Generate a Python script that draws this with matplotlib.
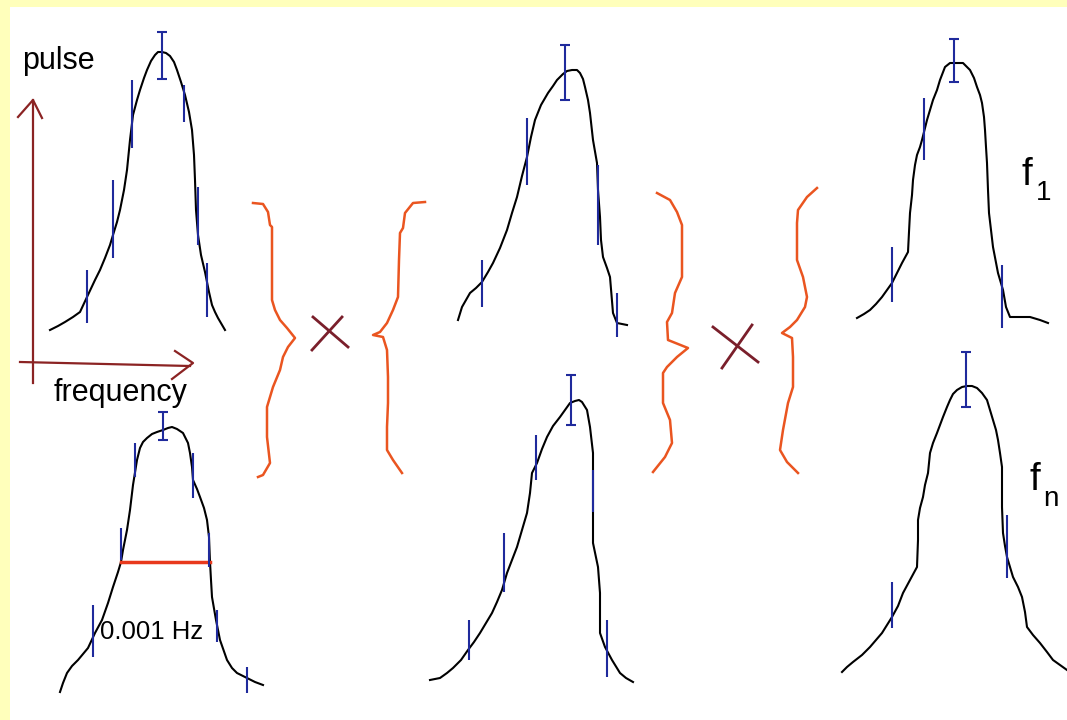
import matplotlib.pyplot as plt
from matplotlib.patches import Rectangle

plt.rcParams['font.family'] = ['Liberation Sans', 'DejaVu Sans']

# hand-drawn pulse profiles (pixel units, y downwards)
tl_x = [50, 58, 65, 73, 80, 87, 95, 100, 105, 110, 113, 117, 120, 124, 127, 130, 133, 137, 140, 144, 147, 151, 155, 158, 162, 166, 170, 174, 177, 181, 185, 189, 192, 194, 195, 196, 198, 201, 205, 209, 212, 215, 218, 225]
tl_y = [330, 326, 322, 317, 312, 297, 280, 270, 258, 245, 235, 222, 210, 190, 170, 140, 115, 100, 90, 78, 70, 61, 55, 52, 52, 53, 56, 62, 70, 82, 95, 112, 130, 155, 180, 210, 235, 255, 272, 292, 305, 312, 318, 330]

bl_x = [60, 63, 67, 72, 78, 83, 88, 95, 102, 108, 113, 118, 121, 123, 125, 127, 130, 133, 137, 140, 143, 147, 152, 157, 163, 168, 172, 177, 183, 188, 190, 192, 193, 197, 200, 204, 207, 209, 210, 211, 212, 216, 220, 227, 232, 237, 247, 255, 263]
bl_y = [692, 683, 673, 666, 660, 654, 648, 633, 620, 603, 587, 572, 562, 550, 540, 530, 510, 485, 460, 448, 442, 438, 434, 432, 430, 428, 427, 429, 433, 443, 453, 467, 480, 489, 497, 508, 520, 537, 562, 580, 597, 620, 640, 660, 668, 673, 678, 682, 685]

tm_x = [458, 462, 466, 470, 476, 482, 488, 493, 500, 507, 512, 517, 522, 527, 531, 535, 541, 548, 553, 557, 563, 567, 572, 577, 580, 583, 585, 588, 590, 593, 597, 598, 600, 601, 603, 607, 610, 613, 617, 627]
tm_y = [320, 307, 300, 293, 288, 282, 272, 263, 248, 230, 213, 197, 176, 157, 137, 120, 105, 93, 86, 80, 74, 71, 70, 70, 73, 79, 87, 100, 113, 140, 163, 190, 217, 240, 257, 268, 277, 313, 323, 325]

bm_x = [430, 440, 447, 453, 461, 468, 474, 480, 486, 492, 497, 502, 507, 512, 517, 522, 527, 530, 532, 537, 542, 547, 553, 560, 565, 570, 575, 579, 582, 587, 590, 593, 593, 593, 598, 600, 600, 605, 612, 620, 626, 633]
bm_y = [680, 678, 673, 668, 660, 650, 642, 633, 623, 613, 602, 590, 573, 560, 547, 530, 513, 493, 473, 463, 449, 437, 426, 417, 410, 403, 401, 400, 402, 410, 427, 453, 493, 543, 567, 593, 633, 647, 660, 673, 678, 682]

tr_x = [857, 864, 870, 876, 882, 887, 892, 897, 902, 908, 909, 910, 912, 913, 915, 917, 920, 922, 925, 927, 930, 933, 937, 940, 945, 950, 957, 963, 970, 974, 977, 980, 982, 984, 985, 986, 987, 988, 989, 993, 998, 1003, 1006, 1010, 1020, 1030, 1040, 1048]
tr_y = [318, 314, 310, 304, 297, 290, 283, 273, 263, 252, 232, 213, 195, 180, 165, 155, 147, 140, 128, 120, 110, 100, 90, 80, 67, 63, 63, 63, 70, 78, 87, 95, 103, 117, 130, 147, 163, 190, 213, 247, 273, 290, 307, 317, 317, 317, 320, 323]

br_x = [842, 847, 853, 862, 870, 876, 882, 887, 892, 898, 903, 910, 917, 918, 918, 920, 923, 925, 928, 930, 933, 937, 940, 943, 947, 950, 953, 957, 962, 967, 972, 977, 982, 987, 990, 993, 996, 998, 1000, 1002, 1002, 1003, 1005, 1007, 1010, 1013, 1018, 1022, 1025, 1027, 1033, 1040, 1047, 1053, 1060, 1067]
br_y = [672, 667, 662, 655, 647, 640, 633, 625, 617, 606, 593, 580, 567, 540, 520, 508, 497, 485, 473, 453, 443, 433, 425, 417, 407, 400, 394, 390, 387, 386, 386, 388, 393, 400, 410, 420, 430, 440, 453, 467, 507, 533, 546, 557, 567, 577, 587, 597, 612, 627, 635, 643, 652, 660, 665, 670]

# error bars: first one of each list is the capped bar at the peak
tl_err_x = [162, 132, 113, 87, 184, 198, 207]
tl_err_lo = [32, 80, 180, 270, 85, 187, 263]
tl_err_hi = [79, 148, 258, 323, 122, 245, 317]

bl_err_x = [163, 135, 193, 121, 209, 93, 217, 247]
bl_err_lo = [412, 443, 453, 528, 533, 605, 610, 667]
bl_err_hi = [440, 477, 498, 560, 567, 657, 642, 693]

tm_err_x = [565, 527, 598, 482, 617]
tm_err_lo = [45, 118, 165, 260, 293]
tm_err_hi = [100, 185, 245, 307, 337]

bm_err_x = [571, 536, 593, 504, 469, 607]
bm_err_lo = [375, 435, 470, 533, 620, 620]
bm_err_hi = [425, 480, 512, 592, 660, 677]

tr_err_x = [954, 924, 892, 1002]
tr_err_lo = [39, 98, 247, 265]
tr_err_hi = [82, 160, 302, 328]

br_err_x = [966, 892, 1007]
br_err_lo = [352, 582, 515]
br_err_hi = [407, 628, 578]

# curly braces and multiplication crosses
brace1_x = [253, 263, 268, 270, 272, 272, 275, 280, 287, 295, 288, 283, 280, 273, 267, 267, 270, 263, 258]
brace1_y = [203, 204, 212, 225, 227, 300, 310, 320, 328, 338, 347, 357, 370, 387, 407, 437, 463, 475, 477]
brace2_x = [425, 413, 405, 403, 400, 399, 398, 393, 387, 380, 373, 383, 387, 388, 388, 387, 387, 393, 402]
brace2_y = [202, 203, 213, 228, 233, 260, 297, 310, 323, 332, 335, 337, 350, 377, 403, 427, 450, 460, 473]
brace3_x = [657, 670, 677, 682, 682, 675, 672, 667, 668, 688, 677, 667, 663, 663, 670, 672, 665, 653]
brace3_y = [193, 200, 212, 225, 277, 293, 313, 322, 340, 348, 357, 367, 373, 403, 420, 443, 457, 472]
brace4_x = [817, 807, 798, 797, 797, 803, 807, 805, 797, 790, 782, 792, 793, 793, 788, 783, 780, 787, 798]
brace4_y = [188, 197, 210, 223, 260, 277, 297, 307, 320, 327, 333, 338, 357, 387, 403, 430, 450, 462, 473]

cross1_x = [[313, 348], [342, 312]]
cross1_y = [[317, 347], [317, 350]]
cross2_x = [[713, 758], [752, 722]]
cross2_y = [[327, 362], [325, 368]]

hw_x = [121, 210]   # 0.001 Hz width marker
hw_y = [562, 562]

CURVE = 'black'
ERR = '#1f2a9c'
BRACE = '#ea5520'
AXIS = '#8b2323'


def main():
    fig = plt.figure(figsize=(10.67, 7.2), dpi=100, facecolor='#ffffbb')
    ax = fig.add_axes([0, 0, 1, 1])
    ax.set_xlim(0, 1067)
    ax.set_ylim(720, 0)
    ax.axis('off')
    ax.add_patch(Rectangle((10, 7), 1060, 720, facecolor='white', edgecolor='none', zorder=0))

    curves = [(tl_x, tl_y, tl_err_x, tl_err_lo, tl_err_hi),
              (bl_x, bl_y, bl_err_x, bl_err_lo, bl_err_hi),
              (tm_x, tm_y, tm_err_x, tm_err_lo, tm_err_hi),
              (bm_x, bm_y, bm_err_x, bm_err_lo, bm_err_hi),
              (tr_x, tr_y, tr_err_x, tr_err_lo, tr_err_hi),
              (br_x, br_y, br_err_x, br_err_lo, br_err_hi)]
    for cx, cy, ex, elo, ehi in curves:
        ax.plot(cx, cy, color=CURVE, lw=1.5, zorder=3, solid_joinstyle='round')
        ax.vlines(ex, elo, ehi, color=ERR, lw=1.5, zorder=4)
        # caps on the peak bar
        ax.hlines([elo[0], ehi[0]], ex[0] - 5, ex[0] + 5, color=ERR, lw=1.5, zorder=4)

    for bx, by in [(brace1_x, brace1_y), (brace2_x, brace2_y),
                   (brace3_x, brace3_y), (brace4_x, brace4_y)]:
        ax.plot(bx, by, color=BRACE, lw=1.8, zorder=2, solid_joinstyle='round')
    for xs, ys in zip(cross1_x + cross2_x, cross1_y + cross2_y):
        ax.plot(xs, ys, color='#7a1f2b', lw=2, zorder=2)

    ax.plot(hw_x, hw_y, color='#e8391c', lw=2.5, zorder=3)

    # pulse / frequency axes
    ax.plot([33, 33], [383, 100], color=AXIS, lw=1.6)
    ax.plot([18, 33, 42], [117, 100, 118], color=AXIS, lw=1.6)
    ax.plot([20, 190], [362, 366], color=AXIS, lw=1.6)
    ax.plot([175, 193, 172], [351, 363, 379], color=AXIS, lw=1.6)

    ax.text(22, 69, 'pulse', fontsize=22, va='baseline', ha='left')
    ax.text(54, 401, 'frequency', fontsize=22, va='baseline', ha='left')
    ax.text(100, 639, '0.001 Hz', fontsize=18.5, va='baseline', ha='left', zorder=5)

    ax.text(1021, 185, 'f', fontsize=28, va='baseline', ha='left')
    ax.text(1036, 200, '1', fontsize=20, va='baseline', ha='left')
    ax.text(1029, 490, 'f', fontsize=28, va='baseline', ha='left')
    ax.text(1043, 506, 'n', fontsize=20, va='baseline', ha='left')

    fig.savefig('out.png', dpi=100, facecolor=fig.get_facecolor())
    plt.close(fig)


if __name__ == '__main__':
    main()
